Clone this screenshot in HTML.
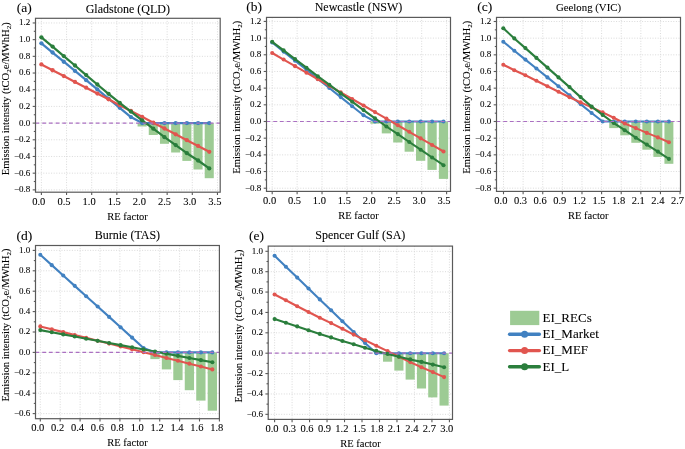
<!DOCTYPE html>
<html><head><meta charset="utf-8"><style>
html,body{margin:0;padding:0;background:#fff;width:685px;height:449px;overflow:hidden;position:relative}
svg text{font-family:"Liberation Serif", serif;fill:#000;stroke:#000;stroke-width:0.08px}
#txt{will-change:transform}
</style></head><body>
<svg width="685" height="449" viewBox="0 0 685 449" style="display:block">
<rect width="685" height="449" fill="#fff"/>
<line x1="41.4" y1="18.3" x2="41.4" y2="192.2" stroke="#d6d6d6" stroke-width="0.9" stroke-dasharray="1 1.6"/>
<line x1="66.55" y1="18.3" x2="66.55" y2="192.2" stroke="#d6d6d6" stroke-width="0.9" stroke-dasharray="1 1.6"/>
<line x1="91.7" y1="18.3" x2="91.7" y2="192.2" stroke="#d6d6d6" stroke-width="0.9" stroke-dasharray="1 1.6"/>
<line x1="116.85" y1="18.3" x2="116.85" y2="192.2" stroke="#d6d6d6" stroke-width="0.9" stroke-dasharray="1 1.6"/>
<line x1="142" y1="18.3" x2="142" y2="192.2" stroke="#d6d6d6" stroke-width="0.9" stroke-dasharray="1 1.6"/>
<line x1="167.15" y1="18.3" x2="167.15" y2="192.2" stroke="#d6d6d6" stroke-width="0.9" stroke-dasharray="1 1.6"/>
<line x1="192.3" y1="18.3" x2="192.3" y2="192.2" stroke="#d6d6d6" stroke-width="0.9" stroke-dasharray="1 1.6"/>
<line x1="217.45" y1="18.3" x2="217.45" y2="192.2" stroke="#d6d6d6" stroke-width="0.9" stroke-dasharray="1 1.6"/>
<line x1="35.5" y1="189.86" x2="220.2" y2="189.86" stroke="#d6d6d6" stroke-width="0.9" stroke-dasharray="1 1.6"/>
<line x1="35.5" y1="173.17" x2="220.2" y2="173.17" stroke="#d6d6d6" stroke-width="0.9" stroke-dasharray="1 1.6"/>
<line x1="35.5" y1="156.48" x2="220.2" y2="156.48" stroke="#d6d6d6" stroke-width="0.9" stroke-dasharray="1 1.6"/>
<line x1="35.5" y1="139.79" x2="220.2" y2="139.79" stroke="#d6d6d6" stroke-width="0.9" stroke-dasharray="1 1.6"/>
<line x1="35.5" y1="123.1" x2="220.2" y2="123.1" stroke="#d6d6d6" stroke-width="0.9" stroke-dasharray="1 1.6"/>
<line x1="35.5" y1="106.41" x2="220.2" y2="106.41" stroke="#d6d6d6" stroke-width="0.9" stroke-dasharray="1 1.6"/>
<line x1="35.5" y1="89.72" x2="220.2" y2="89.72" stroke="#d6d6d6" stroke-width="0.9" stroke-dasharray="1 1.6"/>
<line x1="35.5" y1="73.03" x2="220.2" y2="73.03" stroke="#d6d6d6" stroke-width="0.9" stroke-dasharray="1 1.6"/>
<line x1="35.5" y1="56.34" x2="220.2" y2="56.34" stroke="#d6d6d6" stroke-width="0.9" stroke-dasharray="1 1.6"/>
<line x1="35.5" y1="39.65" x2="220.2" y2="39.65" stroke="#d6d6d6" stroke-width="0.9" stroke-dasharray="1 1.6"/>
<line x1="35.5" y1="22.96" x2="220.2" y2="22.96" stroke="#d6d6d6" stroke-width="0.9" stroke-dasharray="1 1.6"/>
<rect x="137.58" y="123.1" width="9.06" height="3.4" fill="#9dcb94"/>
<rect x="148.77" y="123.1" width="9.06" height="11.9" fill="#9dcb94"/>
<rect x="159.96" y="123.1" width="9.06" height="20.7" fill="#9dcb94"/>
<rect x="171.15" y="123.1" width="9.06" height="29.4" fill="#9dcb94"/>
<rect x="182.34" y="123.1" width="9.06" height="37.8" fill="#9dcb94"/>
<rect x="193.53" y="123.1" width="9.06" height="46.4" fill="#9dcb94"/>
<rect x="204.72" y="123.1" width="9.06" height="55.1" fill="#9dcb94"/>
<polyline points="41.4,43.3 52.59,52.52 63.78,61.74 74.97,70.96 86.16,80.18 97.35,89.4 108.54,98.62 119.73,107.84 130.92,117.06 142.11,123.1 153.3,123.1 164.49,123.1 175.68,123.1 186.87,123.1 198.06,123.1 209.25,123.1" fill="none" stroke="#4181c1" stroke-width="2.25" stroke-linejoin="round" stroke-linecap="round"/>
<circle cx="41.4" cy="43.3" r="2.15" fill="#4181c1"/>
<circle cx="52.59" cy="52.52" r="2.15" fill="#4181c1"/>
<circle cx="63.78" cy="61.74" r="2.15" fill="#4181c1"/>
<circle cx="74.97" cy="70.96" r="2.15" fill="#4181c1"/>
<circle cx="86.16" cy="80.18" r="2.15" fill="#4181c1"/>
<circle cx="97.35" cy="89.4" r="2.15" fill="#4181c1"/>
<circle cx="108.54" cy="98.62" r="2.15" fill="#4181c1"/>
<circle cx="119.73" cy="107.84" r="2.15" fill="#4181c1"/>
<circle cx="130.92" cy="117.06" r="2.15" fill="#4181c1"/>
<circle cx="142.11" cy="123.1" r="2.15" fill="#4181c1"/>
<circle cx="153.3" cy="123.1" r="2.15" fill="#4181c1"/>
<circle cx="164.49" cy="123.1" r="2.15" fill="#4181c1"/>
<circle cx="175.68" cy="123.1" r="2.15" fill="#4181c1"/>
<circle cx="186.87" cy="123.1" r="2.15" fill="#4181c1"/>
<circle cx="198.06" cy="123.1" r="2.15" fill="#4181c1"/>
<circle cx="209.25" cy="123.1" r="2.15" fill="#4181c1"/>
<polyline points="41.4,64.4 52.59,70.23 63.78,76.05 74.97,81.88 86.16,87.71 97.35,93.53 108.54,99.36 119.73,105.19 130.92,111.01 142.11,116.84 153.3,122.67 164.49,128.49 175.68,134.32 186.87,140.15 198.06,145.97 209.25,151.8" fill="none" stroke="#e1554f" stroke-width="2.25" stroke-linejoin="round" stroke-linecap="round"/>
<circle cx="41.4" cy="64.4" r="2.15" fill="#e1554f"/>
<circle cx="52.59" cy="70.23" r="2.15" fill="#e1554f"/>
<circle cx="63.78" cy="76.05" r="2.15" fill="#e1554f"/>
<circle cx="74.97" cy="81.88" r="2.15" fill="#e1554f"/>
<circle cx="86.16" cy="87.71" r="2.15" fill="#e1554f"/>
<circle cx="97.35" cy="93.53" r="2.15" fill="#e1554f"/>
<circle cx="108.54" cy="99.36" r="2.15" fill="#e1554f"/>
<circle cx="119.73" cy="105.19" r="2.15" fill="#e1554f"/>
<circle cx="130.92" cy="111.01" r="2.15" fill="#e1554f"/>
<circle cx="142.11" cy="116.84" r="2.15" fill="#e1554f"/>
<circle cx="153.3" cy="122.67" r="2.15" fill="#e1554f"/>
<circle cx="164.49" cy="128.49" r="2.15" fill="#e1554f"/>
<circle cx="175.68" cy="134.32" r="2.15" fill="#e1554f"/>
<circle cx="186.87" cy="140.15" r="2.15" fill="#e1554f"/>
<circle cx="198.06" cy="145.97" r="2.15" fill="#e1554f"/>
<circle cx="209.25" cy="151.8" r="2.15" fill="#e1554f"/>
<polyline points="41.4,37.3 52.59,46.6 63.78,56.1 74.97,65.5 86.16,75.05 97.35,84.5 108.54,93.8 119.73,102.8 130.92,111.6 142.11,120.3 153.3,128.7 164.49,137.2 175.68,145.1 186.87,153.2 198.06,160.5 209.25,168.4" fill="none" stroke="#2a7e3c" stroke-width="2.25" stroke-linejoin="round" stroke-linecap="round"/>
<circle cx="41.4" cy="37.3" r="2.15" fill="#2a7e3c"/>
<circle cx="52.59" cy="46.6" r="2.15" fill="#2a7e3c"/>
<circle cx="63.78" cy="56.1" r="2.15" fill="#2a7e3c"/>
<circle cx="74.97" cy="65.5" r="2.15" fill="#2a7e3c"/>
<circle cx="86.16" cy="75.05" r="2.15" fill="#2a7e3c"/>
<circle cx="97.35" cy="84.5" r="2.15" fill="#2a7e3c"/>
<circle cx="108.54" cy="93.8" r="2.15" fill="#2a7e3c"/>
<circle cx="119.73" cy="102.8" r="2.15" fill="#2a7e3c"/>
<circle cx="130.92" cy="111.6" r="2.15" fill="#2a7e3c"/>
<circle cx="142.11" cy="120.3" r="2.15" fill="#2a7e3c"/>
<circle cx="153.3" cy="128.7" r="2.15" fill="#2a7e3c"/>
<circle cx="164.49" cy="137.2" r="2.15" fill="#2a7e3c"/>
<circle cx="175.68" cy="145.1" r="2.15" fill="#2a7e3c"/>
<circle cx="186.87" cy="153.2" r="2.15" fill="#2a7e3c"/>
<circle cx="198.06" cy="160.5" r="2.15" fill="#2a7e3c"/>
<circle cx="209.25" cy="168.4" r="2.15" fill="#2a7e3c"/>
<line x1="35.5" y1="123.1" x2="220.2" y2="123.1" stroke="#ab70c2" stroke-width="1.2" stroke-dasharray="3.8 2.9"/>
<rect x="35.5" y="18.3" width="184.7" height="173.9" fill="none" stroke="#5a5a5a" stroke-width="1.2"/>
<line x1="32.7" y1="189.86" x2="35.5" y2="189.86" stroke="#5a5a5a" stroke-width="1.1"/>
<line x1="32.7" y1="173.17" x2="35.5" y2="173.17" stroke="#5a5a5a" stroke-width="1.1"/>
<line x1="32.7" y1="156.48" x2="35.5" y2="156.48" stroke="#5a5a5a" stroke-width="1.1"/>
<line x1="32.7" y1="139.79" x2="35.5" y2="139.79" stroke="#5a5a5a" stroke-width="1.1"/>
<line x1="32.7" y1="123.1" x2="35.5" y2="123.1" stroke="#5a5a5a" stroke-width="1.1"/>
<line x1="32.7" y1="106.41" x2="35.5" y2="106.41" stroke="#5a5a5a" stroke-width="1.1"/>
<line x1="32.7" y1="89.72" x2="35.5" y2="89.72" stroke="#5a5a5a" stroke-width="1.1"/>
<line x1="32.7" y1="73.03" x2="35.5" y2="73.03" stroke="#5a5a5a" stroke-width="1.1"/>
<line x1="32.7" y1="56.34" x2="35.5" y2="56.34" stroke="#5a5a5a" stroke-width="1.1"/>
<line x1="32.7" y1="39.65" x2="35.5" y2="39.65" stroke="#5a5a5a" stroke-width="1.1"/>
<line x1="32.7" y1="22.96" x2="35.5" y2="22.96" stroke="#5a5a5a" stroke-width="1.1"/>
<line x1="33.8" y1="181.51" x2="35.5" y2="181.51" stroke="#5a5a5a" stroke-width="1.1"/>
<line x1="33.8" y1="164.82" x2="35.5" y2="164.82" stroke="#5a5a5a" stroke-width="1.1"/>
<line x1="33.8" y1="148.13" x2="35.5" y2="148.13" stroke="#5a5a5a" stroke-width="1.1"/>
<line x1="33.8" y1="131.44" x2="35.5" y2="131.44" stroke="#5a5a5a" stroke-width="1.1"/>
<line x1="33.8" y1="114.75" x2="35.5" y2="114.75" stroke="#5a5a5a" stroke-width="1.1"/>
<line x1="33.8" y1="98.06" x2="35.5" y2="98.06" stroke="#5a5a5a" stroke-width="1.1"/>
<line x1="33.8" y1="81.37" x2="35.5" y2="81.37" stroke="#5a5a5a" stroke-width="1.1"/>
<line x1="33.8" y1="64.68" x2="35.5" y2="64.68" stroke="#5a5a5a" stroke-width="1.1"/>
<line x1="33.8" y1="47.99" x2="35.5" y2="47.99" stroke="#5a5a5a" stroke-width="1.1"/>
<line x1="33.8" y1="31.3" x2="35.5" y2="31.3" stroke="#5a5a5a" stroke-width="1.1"/>
<line x1="41.4" y1="192.2" x2="41.4" y2="195" stroke="#5a5a5a" stroke-width="1.1"/>
<line x1="66.55" y1="192.2" x2="66.55" y2="195" stroke="#5a5a5a" stroke-width="1.1"/>
<line x1="91.7" y1="192.2" x2="91.7" y2="195" stroke="#5a5a5a" stroke-width="1.1"/>
<line x1="116.85" y1="192.2" x2="116.85" y2="195" stroke="#5a5a5a" stroke-width="1.1"/>
<line x1="142" y1="192.2" x2="142" y2="195" stroke="#5a5a5a" stroke-width="1.1"/>
<line x1="167.15" y1="192.2" x2="167.15" y2="195" stroke="#5a5a5a" stroke-width="1.1"/>
<line x1="192.3" y1="192.2" x2="192.3" y2="195" stroke="#5a5a5a" stroke-width="1.1"/>
<line x1="217.45" y1="192.2" x2="217.45" y2="195" stroke="#5a5a5a" stroke-width="1.1"/>
<line x1="272.2" y1="17.4" x2="272.2" y2="191.4" stroke="#d6d6d6" stroke-width="0.9" stroke-dasharray="1 1.6"/>
<line x1="297.12" y1="17.4" x2="297.12" y2="191.4" stroke="#d6d6d6" stroke-width="0.9" stroke-dasharray="1 1.6"/>
<line x1="322.03" y1="17.4" x2="322.03" y2="191.4" stroke="#d6d6d6" stroke-width="0.9" stroke-dasharray="1 1.6"/>
<line x1="346.94" y1="17.4" x2="346.94" y2="191.4" stroke="#d6d6d6" stroke-width="0.9" stroke-dasharray="1 1.6"/>
<line x1="371.86" y1="17.4" x2="371.86" y2="191.4" stroke="#d6d6d6" stroke-width="0.9" stroke-dasharray="1 1.6"/>
<line x1="396.77" y1="17.4" x2="396.77" y2="191.4" stroke="#d6d6d6" stroke-width="0.9" stroke-dasharray="1 1.6"/>
<line x1="421.69" y1="17.4" x2="421.69" y2="191.4" stroke="#d6d6d6" stroke-width="0.9" stroke-dasharray="1 1.6"/>
<line x1="446.61" y1="17.4" x2="446.61" y2="191.4" stroke="#d6d6d6" stroke-width="0.9" stroke-dasharray="1 1.6"/>
<line x1="266.5" y1="188.22" x2="450.5" y2="188.22" stroke="#d6d6d6" stroke-width="0.9" stroke-dasharray="1 1.6"/>
<line x1="266.5" y1="171.54" x2="450.5" y2="171.54" stroke="#d6d6d6" stroke-width="0.9" stroke-dasharray="1 1.6"/>
<line x1="266.5" y1="154.86" x2="450.5" y2="154.86" stroke="#d6d6d6" stroke-width="0.9" stroke-dasharray="1 1.6"/>
<line x1="266.5" y1="138.18" x2="450.5" y2="138.18" stroke="#d6d6d6" stroke-width="0.9" stroke-dasharray="1 1.6"/>
<line x1="266.5" y1="121.5" x2="450.5" y2="121.5" stroke="#d6d6d6" stroke-width="0.9" stroke-dasharray="1 1.6"/>
<line x1="266.5" y1="104.82" x2="450.5" y2="104.82" stroke="#d6d6d6" stroke-width="0.9" stroke-dasharray="1 1.6"/>
<line x1="266.5" y1="88.14" x2="450.5" y2="88.14" stroke="#d6d6d6" stroke-width="0.9" stroke-dasharray="1 1.6"/>
<line x1="266.5" y1="71.46" x2="450.5" y2="71.46" stroke="#d6d6d6" stroke-width="0.9" stroke-dasharray="1 1.6"/>
<line x1="266.5" y1="54.78" x2="450.5" y2="54.78" stroke="#d6d6d6" stroke-width="0.9" stroke-dasharray="1 1.6"/>
<line x1="266.5" y1="38.1" x2="450.5" y2="38.1" stroke="#d6d6d6" stroke-width="0.9" stroke-dasharray="1 1.6"/>
<line x1="266.5" y1="21.42" x2="450.5" y2="21.42" stroke="#d6d6d6" stroke-width="0.9" stroke-dasharray="1 1.6"/>
<rect x="370.35" y="121.5" width="9.25" height="2.2" fill="#9dcb94"/>
<rect x="381.77" y="121.5" width="9.25" height="11.9" fill="#9dcb94"/>
<rect x="393.19" y="121.5" width="9.25" height="21" fill="#9dcb94"/>
<rect x="404.61" y="121.5" width="9.25" height="30.2" fill="#9dcb94"/>
<rect x="416.03" y="121.5" width="9.25" height="39.3" fill="#9dcb94"/>
<rect x="427.45" y="121.5" width="9.25" height="48.4" fill="#9dcb94"/>
<rect x="438.87" y="121.5" width="9.25" height="57.4" fill="#9dcb94"/>
<polyline points="272.2,42.5 283.62,51.6 295.04,60.7 306.46,69.8 317.88,78.9 329.3,88 340.72,97.1 352.14,106.2 363.56,115.3 374.98,121.5 386.4,121.5 397.82,121.5 409.24,121.5 420.66,121.5 432.08,121.5 443.5,121.5" fill="none" stroke="#4181c1" stroke-width="2.1" stroke-linejoin="round" stroke-linecap="round"/>
<circle cx="272.2" cy="42.5" r="2.05" fill="#4181c1"/>
<circle cx="283.62" cy="51.6" r="2.05" fill="#4181c1"/>
<circle cx="295.04" cy="60.7" r="2.05" fill="#4181c1"/>
<circle cx="306.46" cy="69.8" r="2.05" fill="#4181c1"/>
<circle cx="317.88" cy="78.9" r="2.05" fill="#4181c1"/>
<circle cx="329.3" cy="88" r="2.05" fill="#4181c1"/>
<circle cx="340.72" cy="97.1" r="2.05" fill="#4181c1"/>
<circle cx="352.14" cy="106.2" r="2.05" fill="#4181c1"/>
<circle cx="363.56" cy="115.3" r="2.05" fill="#4181c1"/>
<circle cx="374.98" cy="121.5" r="2.05" fill="#4181c1"/>
<circle cx="386.4" cy="121.5" r="2.05" fill="#4181c1"/>
<circle cx="397.82" cy="121.5" r="2.05" fill="#4181c1"/>
<circle cx="409.24" cy="121.5" r="2.05" fill="#4181c1"/>
<circle cx="420.66" cy="121.5" r="2.05" fill="#4181c1"/>
<circle cx="432.08" cy="121.5" r="2.05" fill="#4181c1"/>
<circle cx="443.5" cy="121.5" r="2.05" fill="#4181c1"/>
<polyline points="272.2,53 283.62,59.57 295.04,66.13 306.46,72.7 317.88,79.27 329.3,85.83 340.72,92.4 352.14,98.97 363.56,105.53 374.98,112.1 386.4,118.67 397.82,125.23 409.24,131.8 420.66,138.37 432.08,144.93 443.5,151.5" fill="none" stroke="#e1554f" stroke-width="2.1" stroke-linejoin="round" stroke-linecap="round"/>
<circle cx="272.2" cy="53" r="2.05" fill="#e1554f"/>
<circle cx="283.62" cy="59.57" r="2.05" fill="#e1554f"/>
<circle cx="295.04" cy="66.13" r="2.05" fill="#e1554f"/>
<circle cx="306.46" cy="72.7" r="2.05" fill="#e1554f"/>
<circle cx="317.88" cy="79.27" r="2.05" fill="#e1554f"/>
<circle cx="329.3" cy="85.83" r="2.05" fill="#e1554f"/>
<circle cx="340.72" cy="92.4" r="2.05" fill="#e1554f"/>
<circle cx="352.14" cy="98.97" r="2.05" fill="#e1554f"/>
<circle cx="363.56" cy="105.53" r="2.05" fill="#e1554f"/>
<circle cx="374.98" cy="112.1" r="2.05" fill="#e1554f"/>
<circle cx="386.4" cy="118.67" r="2.05" fill="#e1554f"/>
<circle cx="397.82" cy="125.23" r="2.05" fill="#e1554f"/>
<circle cx="409.24" cy="131.8" r="2.05" fill="#e1554f"/>
<circle cx="420.66" cy="138.37" r="2.05" fill="#e1554f"/>
<circle cx="432.08" cy="144.93" r="2.05" fill="#e1554f"/>
<circle cx="443.5" cy="151.5" r="2.05" fill="#e1554f"/>
<polyline points="272.2,41.8 283.62,50.4 295.04,59.1 306.46,67.7 317.88,76.4 329.3,84.7 340.72,93.4 352.14,101.7 363.56,110.1 374.98,118.3 386.4,126.5 397.82,134.1 409.24,142 420.66,149.7 432.08,157.5 443.5,165.2" fill="none" stroke="#2a7e3c" stroke-width="2.1" stroke-linejoin="round" stroke-linecap="round"/>
<circle cx="272.2" cy="41.8" r="2.05" fill="#2a7e3c"/>
<circle cx="283.62" cy="50.4" r="2.05" fill="#2a7e3c"/>
<circle cx="295.04" cy="59.1" r="2.05" fill="#2a7e3c"/>
<circle cx="306.46" cy="67.7" r="2.05" fill="#2a7e3c"/>
<circle cx="317.88" cy="76.4" r="2.05" fill="#2a7e3c"/>
<circle cx="329.3" cy="84.7" r="2.05" fill="#2a7e3c"/>
<circle cx="340.72" cy="93.4" r="2.05" fill="#2a7e3c"/>
<circle cx="352.14" cy="101.7" r="2.05" fill="#2a7e3c"/>
<circle cx="363.56" cy="110.1" r="2.05" fill="#2a7e3c"/>
<circle cx="374.98" cy="118.3" r="2.05" fill="#2a7e3c"/>
<circle cx="386.4" cy="126.5" r="2.05" fill="#2a7e3c"/>
<circle cx="397.82" cy="134.1" r="2.05" fill="#2a7e3c"/>
<circle cx="409.24" cy="142" r="2.05" fill="#2a7e3c"/>
<circle cx="420.66" cy="149.7" r="2.05" fill="#2a7e3c"/>
<circle cx="432.08" cy="157.5" r="2.05" fill="#2a7e3c"/>
<circle cx="443.5" cy="165.2" r="2.05" fill="#2a7e3c"/>
<line x1="266.5" y1="121.5" x2="450.5" y2="121.5" stroke="#ab70c2" stroke-width="1.2" stroke-dasharray="3.8 2.9"/>
<rect x="266.5" y="17.4" width="184" height="174" fill="none" stroke="#5a5a5a" stroke-width="1.2"/>
<line x1="263.7" y1="188.22" x2="266.5" y2="188.22" stroke="#5a5a5a" stroke-width="1.1"/>
<line x1="263.7" y1="171.54" x2="266.5" y2="171.54" stroke="#5a5a5a" stroke-width="1.1"/>
<line x1="263.7" y1="154.86" x2="266.5" y2="154.86" stroke="#5a5a5a" stroke-width="1.1"/>
<line x1="263.7" y1="138.18" x2="266.5" y2="138.18" stroke="#5a5a5a" stroke-width="1.1"/>
<line x1="263.7" y1="121.5" x2="266.5" y2="121.5" stroke="#5a5a5a" stroke-width="1.1"/>
<line x1="263.7" y1="104.82" x2="266.5" y2="104.82" stroke="#5a5a5a" stroke-width="1.1"/>
<line x1="263.7" y1="88.14" x2="266.5" y2="88.14" stroke="#5a5a5a" stroke-width="1.1"/>
<line x1="263.7" y1="71.46" x2="266.5" y2="71.46" stroke="#5a5a5a" stroke-width="1.1"/>
<line x1="263.7" y1="54.78" x2="266.5" y2="54.78" stroke="#5a5a5a" stroke-width="1.1"/>
<line x1="263.7" y1="38.1" x2="266.5" y2="38.1" stroke="#5a5a5a" stroke-width="1.1"/>
<line x1="263.7" y1="21.42" x2="266.5" y2="21.42" stroke="#5a5a5a" stroke-width="1.1"/>
<line x1="264.8" y1="179.88" x2="266.5" y2="179.88" stroke="#5a5a5a" stroke-width="1.1"/>
<line x1="264.8" y1="163.2" x2="266.5" y2="163.2" stroke="#5a5a5a" stroke-width="1.1"/>
<line x1="264.8" y1="146.52" x2="266.5" y2="146.52" stroke="#5a5a5a" stroke-width="1.1"/>
<line x1="264.8" y1="129.84" x2="266.5" y2="129.84" stroke="#5a5a5a" stroke-width="1.1"/>
<line x1="264.8" y1="113.16" x2="266.5" y2="113.16" stroke="#5a5a5a" stroke-width="1.1"/>
<line x1="264.8" y1="96.48" x2="266.5" y2="96.48" stroke="#5a5a5a" stroke-width="1.1"/>
<line x1="264.8" y1="79.8" x2="266.5" y2="79.8" stroke="#5a5a5a" stroke-width="1.1"/>
<line x1="264.8" y1="63.12" x2="266.5" y2="63.12" stroke="#5a5a5a" stroke-width="1.1"/>
<line x1="264.8" y1="46.44" x2="266.5" y2="46.44" stroke="#5a5a5a" stroke-width="1.1"/>
<line x1="264.8" y1="29.76" x2="266.5" y2="29.76" stroke="#5a5a5a" stroke-width="1.1"/>
<line x1="272.2" y1="191.4" x2="272.2" y2="194.2" stroke="#5a5a5a" stroke-width="1.1"/>
<line x1="297.12" y1="191.4" x2="297.12" y2="194.2" stroke="#5a5a5a" stroke-width="1.1"/>
<line x1="322.03" y1="191.4" x2="322.03" y2="194.2" stroke="#5a5a5a" stroke-width="1.1"/>
<line x1="346.94" y1="191.4" x2="346.94" y2="194.2" stroke="#5a5a5a" stroke-width="1.1"/>
<line x1="371.86" y1="191.4" x2="371.86" y2="194.2" stroke="#5a5a5a" stroke-width="1.1"/>
<line x1="396.77" y1="191.4" x2="396.77" y2="194.2" stroke="#5a5a5a" stroke-width="1.1"/>
<line x1="421.69" y1="191.4" x2="421.69" y2="194.2" stroke="#5a5a5a" stroke-width="1.1"/>
<line x1="446.61" y1="191.4" x2="446.61" y2="194.2" stroke="#5a5a5a" stroke-width="1.1"/>
<line x1="503.5" y1="17.4" x2="503.5" y2="191.4" stroke="#d6d6d6" stroke-width="0.9" stroke-dasharray="1 1.6"/>
<line x1="523.12" y1="17.4" x2="523.12" y2="191.4" stroke="#d6d6d6" stroke-width="0.9" stroke-dasharray="1 1.6"/>
<line x1="542.74" y1="17.4" x2="542.74" y2="191.4" stroke="#d6d6d6" stroke-width="0.9" stroke-dasharray="1 1.6"/>
<line x1="562.36" y1="17.4" x2="562.36" y2="191.4" stroke="#d6d6d6" stroke-width="0.9" stroke-dasharray="1 1.6"/>
<line x1="581.98" y1="17.4" x2="581.98" y2="191.4" stroke="#d6d6d6" stroke-width="0.9" stroke-dasharray="1 1.6"/>
<line x1="601.6" y1="17.4" x2="601.6" y2="191.4" stroke="#d6d6d6" stroke-width="0.9" stroke-dasharray="1 1.6"/>
<line x1="621.22" y1="17.4" x2="621.22" y2="191.4" stroke="#d6d6d6" stroke-width="0.9" stroke-dasharray="1 1.6"/>
<line x1="640.84" y1="17.4" x2="640.84" y2="191.4" stroke="#d6d6d6" stroke-width="0.9" stroke-dasharray="1 1.6"/>
<line x1="660.46" y1="17.4" x2="660.46" y2="191.4" stroke="#d6d6d6" stroke-width="0.9" stroke-dasharray="1 1.6"/>
<line x1="496.5" y1="188.16" x2="680.5" y2="188.16" stroke="#d6d6d6" stroke-width="0.9" stroke-dasharray="1 1.6"/>
<line x1="496.5" y1="171.5" x2="680.5" y2="171.5" stroke="#d6d6d6" stroke-width="0.9" stroke-dasharray="1 1.6"/>
<line x1="496.5" y1="154.83" x2="680.5" y2="154.83" stroke="#d6d6d6" stroke-width="0.9" stroke-dasharray="1 1.6"/>
<line x1="496.5" y1="138.17" x2="680.5" y2="138.17" stroke="#d6d6d6" stroke-width="0.9" stroke-dasharray="1 1.6"/>
<line x1="496.5" y1="121.5" x2="680.5" y2="121.5" stroke="#d6d6d6" stroke-width="0.9" stroke-dasharray="1 1.6"/>
<line x1="496.5" y1="104.83" x2="680.5" y2="104.83" stroke="#d6d6d6" stroke-width="0.9" stroke-dasharray="1 1.6"/>
<line x1="496.5" y1="88.17" x2="680.5" y2="88.17" stroke="#d6d6d6" stroke-width="0.9" stroke-dasharray="1 1.6"/>
<line x1="496.5" y1="71.5" x2="680.5" y2="71.5" stroke="#d6d6d6" stroke-width="0.9" stroke-dasharray="1 1.6"/>
<line x1="496.5" y1="54.84" x2="680.5" y2="54.84" stroke="#d6d6d6" stroke-width="0.9" stroke-dasharray="1 1.6"/>
<line x1="496.5" y1="38.17" x2="680.5" y2="38.17" stroke="#d6d6d6" stroke-width="0.9" stroke-dasharray="1 1.6"/>
<line x1="496.5" y1="21.5" x2="680.5" y2="21.5" stroke="#d6d6d6" stroke-width="0.9" stroke-dasharray="1 1.6"/>
<rect x="609.23" y="121.5" width="8.94" height="6.6" fill="#9dcb94"/>
<rect x="620.27" y="121.5" width="8.94" height="13.8" fill="#9dcb94"/>
<rect x="631.31" y="121.5" width="8.94" height="21.3" fill="#9dcb94"/>
<rect x="642.35" y="121.5" width="8.94" height="28.2" fill="#9dcb94"/>
<rect x="653.39" y="121.5" width="8.94" height="35.4" fill="#9dcb94"/>
<rect x="664.43" y="121.5" width="8.94" height="42.3" fill="#9dcb94"/>
<polyline points="503.3,41.8 514.34,50.7 525.38,59.6 536.42,68.5 547.46,77.4 558.5,86.3 569.54,95.2 580.58,104.1 591.62,113 602.66,121.5 613.7,121.5 624.74,121.5 635.78,121.5 646.82,121.5 657.86,121.5 668.9,121.5" fill="none" stroke="#4181c1" stroke-width="2.1" stroke-linejoin="round" stroke-linecap="round"/>
<circle cx="503.3" cy="41.8" r="2.05" fill="#4181c1"/>
<circle cx="514.34" cy="50.7" r="2.05" fill="#4181c1"/>
<circle cx="525.38" cy="59.6" r="2.05" fill="#4181c1"/>
<circle cx="536.42" cy="68.5" r="2.05" fill="#4181c1"/>
<circle cx="547.46" cy="77.4" r="2.05" fill="#4181c1"/>
<circle cx="558.5" cy="86.3" r="2.05" fill="#4181c1"/>
<circle cx="569.54" cy="95.2" r="2.05" fill="#4181c1"/>
<circle cx="580.58" cy="104.1" r="2.05" fill="#4181c1"/>
<circle cx="591.62" cy="113" r="2.05" fill="#4181c1"/>
<circle cx="602.66" cy="121.5" r="2.05" fill="#4181c1"/>
<circle cx="613.7" cy="121.5" r="2.05" fill="#4181c1"/>
<circle cx="624.74" cy="121.5" r="2.05" fill="#4181c1"/>
<circle cx="635.78" cy="121.5" r="2.05" fill="#4181c1"/>
<circle cx="646.82" cy="121.5" r="2.05" fill="#4181c1"/>
<circle cx="657.86" cy="121.5" r="2.05" fill="#4181c1"/>
<circle cx="668.9" cy="121.5" r="2.05" fill="#4181c1"/>
<polyline points="503.3,64.7 514.34,70.2 525.38,75.3 536.42,80.8 547.46,86.3 558.5,91.7 569.54,97.3 580.58,102.4 591.62,107.4 602.66,112.4 613.7,117.8 624.74,123.5 635.78,128.1 646.82,132.9 657.86,137.4 668.9,142.2" fill="none" stroke="#e1554f" stroke-width="2.1" stroke-linejoin="round" stroke-linecap="round"/>
<circle cx="503.3" cy="64.7" r="2.05" fill="#e1554f"/>
<circle cx="514.34" cy="70.2" r="2.05" fill="#e1554f"/>
<circle cx="525.38" cy="75.3" r="2.05" fill="#e1554f"/>
<circle cx="536.42" cy="80.8" r="2.05" fill="#e1554f"/>
<circle cx="547.46" cy="86.3" r="2.05" fill="#e1554f"/>
<circle cx="558.5" cy="91.7" r="2.05" fill="#e1554f"/>
<circle cx="569.54" cy="97.3" r="2.05" fill="#e1554f"/>
<circle cx="580.58" cy="102.4" r="2.05" fill="#e1554f"/>
<circle cx="591.62" cy="107.4" r="2.05" fill="#e1554f"/>
<circle cx="602.66" cy="112.4" r="2.05" fill="#e1554f"/>
<circle cx="613.7" cy="117.8" r="2.05" fill="#e1554f"/>
<circle cx="624.74" cy="123.5" r="2.05" fill="#e1554f"/>
<circle cx="635.78" cy="128.1" r="2.05" fill="#e1554f"/>
<circle cx="646.82" cy="132.9" r="2.05" fill="#e1554f"/>
<circle cx="657.86" cy="137.4" r="2.05" fill="#e1554f"/>
<circle cx="668.9" cy="142.2" r="2.05" fill="#e1554f"/>
<polyline points="503.3,28.3 514.34,38.4 525.38,48.1 536.42,57.9 547.46,67.6 558.5,77.4 569.54,87.1 580.58,97.1 591.62,106.6 602.66,114.9 613.7,123 624.74,130.2 635.78,137.7 646.82,144.6 657.86,151.6 668.9,158.9" fill="none" stroke="#2a7e3c" stroke-width="2.1" stroke-linejoin="round" stroke-linecap="round"/>
<circle cx="503.3" cy="28.3" r="2.05" fill="#2a7e3c"/>
<circle cx="514.34" cy="38.4" r="2.05" fill="#2a7e3c"/>
<circle cx="525.38" cy="48.1" r="2.05" fill="#2a7e3c"/>
<circle cx="536.42" cy="57.9" r="2.05" fill="#2a7e3c"/>
<circle cx="547.46" cy="67.6" r="2.05" fill="#2a7e3c"/>
<circle cx="558.5" cy="77.4" r="2.05" fill="#2a7e3c"/>
<circle cx="569.54" cy="87.1" r="2.05" fill="#2a7e3c"/>
<circle cx="580.58" cy="97.1" r="2.05" fill="#2a7e3c"/>
<circle cx="591.62" cy="106.6" r="2.05" fill="#2a7e3c"/>
<circle cx="602.66" cy="114.9" r="2.05" fill="#2a7e3c"/>
<circle cx="613.7" cy="123" r="2.05" fill="#2a7e3c"/>
<circle cx="624.74" cy="130.2" r="2.05" fill="#2a7e3c"/>
<circle cx="635.78" cy="137.7" r="2.05" fill="#2a7e3c"/>
<circle cx="646.82" cy="144.6" r="2.05" fill="#2a7e3c"/>
<circle cx="657.86" cy="151.6" r="2.05" fill="#2a7e3c"/>
<circle cx="668.9" cy="158.9" r="2.05" fill="#2a7e3c"/>
<line x1="496.5" y1="121.5" x2="680.5" y2="121.5" stroke="#ab70c2" stroke-width="1.2" stroke-dasharray="3.8 2.9"/>
<rect x="496.5" y="17.4" width="184" height="174" fill="none" stroke="#5a5a5a" stroke-width="1.2"/>
<line x1="493.7" y1="188.16" x2="496.5" y2="188.16" stroke="#5a5a5a" stroke-width="1.1"/>
<line x1="493.7" y1="171.5" x2="496.5" y2="171.5" stroke="#5a5a5a" stroke-width="1.1"/>
<line x1="493.7" y1="154.83" x2="496.5" y2="154.83" stroke="#5a5a5a" stroke-width="1.1"/>
<line x1="493.7" y1="138.17" x2="496.5" y2="138.17" stroke="#5a5a5a" stroke-width="1.1"/>
<line x1="493.7" y1="121.5" x2="496.5" y2="121.5" stroke="#5a5a5a" stroke-width="1.1"/>
<line x1="493.7" y1="104.83" x2="496.5" y2="104.83" stroke="#5a5a5a" stroke-width="1.1"/>
<line x1="493.7" y1="88.17" x2="496.5" y2="88.17" stroke="#5a5a5a" stroke-width="1.1"/>
<line x1="493.7" y1="71.5" x2="496.5" y2="71.5" stroke="#5a5a5a" stroke-width="1.1"/>
<line x1="493.7" y1="54.84" x2="496.5" y2="54.84" stroke="#5a5a5a" stroke-width="1.1"/>
<line x1="493.7" y1="38.17" x2="496.5" y2="38.17" stroke="#5a5a5a" stroke-width="1.1"/>
<line x1="493.7" y1="21.5" x2="496.5" y2="21.5" stroke="#5a5a5a" stroke-width="1.1"/>
<line x1="494.8" y1="179.83" x2="496.5" y2="179.83" stroke="#5a5a5a" stroke-width="1.1"/>
<line x1="494.8" y1="163.17" x2="496.5" y2="163.17" stroke="#5a5a5a" stroke-width="1.1"/>
<line x1="494.8" y1="146.5" x2="496.5" y2="146.5" stroke="#5a5a5a" stroke-width="1.1"/>
<line x1="494.8" y1="129.83" x2="496.5" y2="129.83" stroke="#5a5a5a" stroke-width="1.1"/>
<line x1="494.8" y1="113.17" x2="496.5" y2="113.17" stroke="#5a5a5a" stroke-width="1.1"/>
<line x1="494.8" y1="96.5" x2="496.5" y2="96.5" stroke="#5a5a5a" stroke-width="1.1"/>
<line x1="494.8" y1="79.83" x2="496.5" y2="79.83" stroke="#5a5a5a" stroke-width="1.1"/>
<line x1="494.8" y1="63.17" x2="496.5" y2="63.17" stroke="#5a5a5a" stroke-width="1.1"/>
<line x1="494.8" y1="46.5" x2="496.5" y2="46.5" stroke="#5a5a5a" stroke-width="1.1"/>
<line x1="494.8" y1="29.84" x2="496.5" y2="29.84" stroke="#5a5a5a" stroke-width="1.1"/>
<line x1="503.5" y1="191.4" x2="503.5" y2="194.2" stroke="#5a5a5a" stroke-width="1.1"/>
<line x1="523.12" y1="191.4" x2="523.12" y2="194.2" stroke="#5a5a5a" stroke-width="1.1"/>
<line x1="542.74" y1="191.4" x2="542.74" y2="194.2" stroke="#5a5a5a" stroke-width="1.1"/>
<line x1="562.36" y1="191.4" x2="562.36" y2="194.2" stroke="#5a5a5a" stroke-width="1.1"/>
<line x1="581.98" y1="191.4" x2="581.98" y2="194.2" stroke="#5a5a5a" stroke-width="1.1"/>
<line x1="601.6" y1="191.4" x2="601.6" y2="194.2" stroke="#5a5a5a" stroke-width="1.1"/>
<line x1="621.22" y1="191.4" x2="621.22" y2="194.2" stroke="#5a5a5a" stroke-width="1.1"/>
<line x1="640.84" y1="191.4" x2="640.84" y2="194.2" stroke="#5a5a5a" stroke-width="1.1"/>
<line x1="660.46" y1="191.4" x2="660.46" y2="194.2" stroke="#5a5a5a" stroke-width="1.1"/>
<line x1="680.08" y1="191.4" x2="680.08" y2="194.2" stroke="#5a5a5a" stroke-width="1.1"/>
<line x1="40.3" y1="245.5" x2="40.3" y2="418.7" stroke="#d6d6d6" stroke-width="0.9" stroke-dasharray="1 1.6"/>
<line x1="60.2" y1="245.5" x2="60.2" y2="418.7" stroke="#d6d6d6" stroke-width="0.9" stroke-dasharray="1 1.6"/>
<line x1="80.1" y1="245.5" x2="80.1" y2="418.7" stroke="#d6d6d6" stroke-width="0.9" stroke-dasharray="1 1.6"/>
<line x1="100" y1="245.5" x2="100" y2="418.7" stroke="#d6d6d6" stroke-width="0.9" stroke-dasharray="1 1.6"/>
<line x1="119.9" y1="245.5" x2="119.9" y2="418.7" stroke="#d6d6d6" stroke-width="0.9" stroke-dasharray="1 1.6"/>
<line x1="139.8" y1="245.5" x2="139.8" y2="418.7" stroke="#d6d6d6" stroke-width="0.9" stroke-dasharray="1 1.6"/>
<line x1="159.7" y1="245.5" x2="159.7" y2="418.7" stroke="#d6d6d6" stroke-width="0.9" stroke-dasharray="1 1.6"/>
<line x1="179.6" y1="245.5" x2="179.6" y2="418.7" stroke="#d6d6d6" stroke-width="0.9" stroke-dasharray="1 1.6"/>
<line x1="199.5" y1="245.5" x2="199.5" y2="418.7" stroke="#d6d6d6" stroke-width="0.9" stroke-dasharray="1 1.6"/>
<line x1="35.5" y1="413.6" x2="219.4" y2="413.6" stroke="#d6d6d6" stroke-width="0.9" stroke-dasharray="1 1.6"/>
<line x1="35.5" y1="393.2" x2="219.4" y2="393.2" stroke="#d6d6d6" stroke-width="0.9" stroke-dasharray="1 1.6"/>
<line x1="35.5" y1="372.8" x2="219.4" y2="372.8" stroke="#d6d6d6" stroke-width="0.9" stroke-dasharray="1 1.6"/>
<line x1="35.5" y1="352.4" x2="219.4" y2="352.4" stroke="#d6d6d6" stroke-width="0.9" stroke-dasharray="1 1.6"/>
<line x1="35.5" y1="332" x2="219.4" y2="332" stroke="#d6d6d6" stroke-width="0.9" stroke-dasharray="1 1.6"/>
<line x1="35.5" y1="311.6" x2="219.4" y2="311.6" stroke="#d6d6d6" stroke-width="0.9" stroke-dasharray="1 1.6"/>
<line x1="35.5" y1="291.2" x2="219.4" y2="291.2" stroke="#d6d6d6" stroke-width="0.9" stroke-dasharray="1 1.6"/>
<line x1="35.5" y1="270.8" x2="219.4" y2="270.8" stroke="#d6d6d6" stroke-width="0.9" stroke-dasharray="1 1.6"/>
<line x1="35.5" y1="250.4" x2="219.4" y2="250.4" stroke="#d6d6d6" stroke-width="0.9" stroke-dasharray="1 1.6"/>
<rect x="150.35" y="352.4" width="9.29" height="6.7" fill="#9dcb94"/>
<rect x="161.82" y="352.4" width="9.29" height="17" fill="#9dcb94"/>
<rect x="173.29" y="352.4" width="9.29" height="27.7" fill="#9dcb94"/>
<rect x="184.76" y="352.4" width="9.29" height="37.8" fill="#9dcb94"/>
<rect x="196.23" y="352.4" width="9.29" height="48.2" fill="#9dcb94"/>
<rect x="207.7" y="352.4" width="9.29" height="58.3" fill="#9dcb94"/>
<polyline points="40.3,254.8 51.77,265.15 63.24,275.5 74.71,285.85 86.18,296.2 97.65,306.55 109.12,316.9 120.59,327.25 132.06,337.6 143.53,347.95 155,352.4 166.47,352.4 177.94,352.4 189.41,352.4 200.88,352.4 212.35,352.4" fill="none" stroke="#4181c1" stroke-width="2.1" stroke-linejoin="round" stroke-linecap="round"/>
<circle cx="40.3" cy="254.8" r="2.05" fill="#4181c1"/>
<circle cx="51.77" cy="265.15" r="2.05" fill="#4181c1"/>
<circle cx="63.24" cy="275.5" r="2.05" fill="#4181c1"/>
<circle cx="74.71" cy="285.85" r="2.05" fill="#4181c1"/>
<circle cx="86.18" cy="296.2" r="2.05" fill="#4181c1"/>
<circle cx="97.65" cy="306.55" r="2.05" fill="#4181c1"/>
<circle cx="109.12" cy="316.9" r="2.05" fill="#4181c1"/>
<circle cx="120.59" cy="327.25" r="2.05" fill="#4181c1"/>
<circle cx="132.06" cy="337.6" r="2.05" fill="#4181c1"/>
<circle cx="143.53" cy="347.95" r="2.05" fill="#4181c1"/>
<circle cx="155" cy="352.4" r="2.05" fill="#4181c1"/>
<circle cx="166.47" cy="352.4" r="2.05" fill="#4181c1"/>
<circle cx="177.94" cy="352.4" r="2.05" fill="#4181c1"/>
<circle cx="189.41" cy="352.4" r="2.05" fill="#4181c1"/>
<circle cx="200.88" cy="352.4" r="2.05" fill="#4181c1"/>
<circle cx="212.35" cy="352.4" r="2.05" fill="#4181c1"/>
<polyline points="40.3,326.4 51.77,329.27 63.24,332.13 74.71,335 86.18,337.87 97.65,340.73 109.12,343.6 120.59,346.47 132.06,349.33 143.53,352.2 155,355.07 166.47,357.93 177.94,360.8 189.41,363.67 200.88,366.53 212.35,369.4" fill="none" stroke="#e1554f" stroke-width="2.1" stroke-linejoin="round" stroke-linecap="round"/>
<circle cx="40.3" cy="326.4" r="2.05" fill="#e1554f"/>
<circle cx="51.77" cy="329.27" r="2.05" fill="#e1554f"/>
<circle cx="63.24" cy="332.13" r="2.05" fill="#e1554f"/>
<circle cx="74.71" cy="335" r="2.05" fill="#e1554f"/>
<circle cx="86.18" cy="337.87" r="2.05" fill="#e1554f"/>
<circle cx="97.65" cy="340.73" r="2.05" fill="#e1554f"/>
<circle cx="109.12" cy="343.6" r="2.05" fill="#e1554f"/>
<circle cx="120.59" cy="346.47" r="2.05" fill="#e1554f"/>
<circle cx="132.06" cy="349.33" r="2.05" fill="#e1554f"/>
<circle cx="143.53" cy="352.2" r="2.05" fill="#e1554f"/>
<circle cx="155" cy="355.07" r="2.05" fill="#e1554f"/>
<circle cx="166.47" cy="357.93" r="2.05" fill="#e1554f"/>
<circle cx="177.94" cy="360.8" r="2.05" fill="#e1554f"/>
<circle cx="189.41" cy="363.67" r="2.05" fill="#e1554f"/>
<circle cx="200.88" cy="366.53" r="2.05" fill="#e1554f"/>
<circle cx="212.35" cy="369.4" r="2.05" fill="#e1554f"/>
<polyline points="40.3,330.1 51.77,332.25 63.24,334.39 74.71,336.54 86.18,338.69 97.65,340.83 109.12,342.98 120.59,345.13 132.06,347.27 143.53,349.42 155,351.57 166.47,353.71 177.94,355.86 189.41,358.01 200.88,360.15 212.35,362.3" fill="none" stroke="#2a7e3c" stroke-width="2.1" stroke-linejoin="round" stroke-linecap="round"/>
<circle cx="40.3" cy="330.1" r="2.05" fill="#2a7e3c"/>
<circle cx="51.77" cy="332.25" r="2.05" fill="#2a7e3c"/>
<circle cx="63.24" cy="334.39" r="2.05" fill="#2a7e3c"/>
<circle cx="74.71" cy="336.54" r="2.05" fill="#2a7e3c"/>
<circle cx="86.18" cy="338.69" r="2.05" fill="#2a7e3c"/>
<circle cx="97.65" cy="340.83" r="2.05" fill="#2a7e3c"/>
<circle cx="109.12" cy="342.98" r="2.05" fill="#2a7e3c"/>
<circle cx="120.59" cy="345.13" r="2.05" fill="#2a7e3c"/>
<circle cx="132.06" cy="347.27" r="2.05" fill="#2a7e3c"/>
<circle cx="143.53" cy="349.42" r="2.05" fill="#2a7e3c"/>
<circle cx="155" cy="351.57" r="2.05" fill="#2a7e3c"/>
<circle cx="166.47" cy="353.71" r="2.05" fill="#2a7e3c"/>
<circle cx="177.94" cy="355.86" r="2.05" fill="#2a7e3c"/>
<circle cx="189.41" cy="358.01" r="2.05" fill="#2a7e3c"/>
<circle cx="200.88" cy="360.15" r="2.05" fill="#2a7e3c"/>
<circle cx="212.35" cy="362.3" r="2.05" fill="#2a7e3c"/>
<line x1="35.5" y1="352.4" x2="219.4" y2="352.4" stroke="#ab70c2" stroke-width="1.2" stroke-dasharray="3.8 2.9"/>
<rect x="35.5" y="245.5" width="183.9" height="173.2" fill="none" stroke="#5a5a5a" stroke-width="1.2"/>
<line x1="32.7" y1="413.6" x2="35.5" y2="413.6" stroke="#5a5a5a" stroke-width="1.1"/>
<line x1="32.7" y1="393.2" x2="35.5" y2="393.2" stroke="#5a5a5a" stroke-width="1.1"/>
<line x1="32.7" y1="372.8" x2="35.5" y2="372.8" stroke="#5a5a5a" stroke-width="1.1"/>
<line x1="32.7" y1="352.4" x2="35.5" y2="352.4" stroke="#5a5a5a" stroke-width="1.1"/>
<line x1="32.7" y1="332" x2="35.5" y2="332" stroke="#5a5a5a" stroke-width="1.1"/>
<line x1="32.7" y1="311.6" x2="35.5" y2="311.6" stroke="#5a5a5a" stroke-width="1.1"/>
<line x1="32.7" y1="291.2" x2="35.5" y2="291.2" stroke="#5a5a5a" stroke-width="1.1"/>
<line x1="32.7" y1="270.8" x2="35.5" y2="270.8" stroke="#5a5a5a" stroke-width="1.1"/>
<line x1="32.7" y1="250.4" x2="35.5" y2="250.4" stroke="#5a5a5a" stroke-width="1.1"/>
<line x1="33.8" y1="403.4" x2="35.5" y2="403.4" stroke="#5a5a5a" stroke-width="1.1"/>
<line x1="33.8" y1="383" x2="35.5" y2="383" stroke="#5a5a5a" stroke-width="1.1"/>
<line x1="33.8" y1="362.6" x2="35.5" y2="362.6" stroke="#5a5a5a" stroke-width="1.1"/>
<line x1="33.8" y1="342.2" x2="35.5" y2="342.2" stroke="#5a5a5a" stroke-width="1.1"/>
<line x1="33.8" y1="321.8" x2="35.5" y2="321.8" stroke="#5a5a5a" stroke-width="1.1"/>
<line x1="33.8" y1="301.4" x2="35.5" y2="301.4" stroke="#5a5a5a" stroke-width="1.1"/>
<line x1="33.8" y1="281" x2="35.5" y2="281" stroke="#5a5a5a" stroke-width="1.1"/>
<line x1="33.8" y1="260.6" x2="35.5" y2="260.6" stroke="#5a5a5a" stroke-width="1.1"/>
<line x1="40.3" y1="418.7" x2="40.3" y2="421.5" stroke="#5a5a5a" stroke-width="1.1"/>
<line x1="60.2" y1="418.7" x2="60.2" y2="421.5" stroke="#5a5a5a" stroke-width="1.1"/>
<line x1="80.1" y1="418.7" x2="80.1" y2="421.5" stroke="#5a5a5a" stroke-width="1.1"/>
<line x1="100" y1="418.7" x2="100" y2="421.5" stroke="#5a5a5a" stroke-width="1.1"/>
<line x1="119.9" y1="418.7" x2="119.9" y2="421.5" stroke="#5a5a5a" stroke-width="1.1"/>
<line x1="139.8" y1="418.7" x2="139.8" y2="421.5" stroke="#5a5a5a" stroke-width="1.1"/>
<line x1="159.7" y1="418.7" x2="159.7" y2="421.5" stroke="#5a5a5a" stroke-width="1.1"/>
<line x1="179.6" y1="418.7" x2="179.6" y2="421.5" stroke="#5a5a5a" stroke-width="1.1"/>
<line x1="199.5" y1="418.7" x2="199.5" y2="421.5" stroke="#5a5a5a" stroke-width="1.1"/>
<line x1="219.4" y1="418.7" x2="219.4" y2="421.5" stroke="#5a5a5a" stroke-width="1.1"/>
<line x1="274.6" y1="246.1" x2="274.6" y2="419.4" stroke="#d6d6d6" stroke-width="0.9" stroke-dasharray="1 1.6"/>
<line x1="292.08" y1="246.1" x2="292.08" y2="419.4" stroke="#d6d6d6" stroke-width="0.9" stroke-dasharray="1 1.6"/>
<line x1="309.56" y1="246.1" x2="309.56" y2="419.4" stroke="#d6d6d6" stroke-width="0.9" stroke-dasharray="1 1.6"/>
<line x1="327.04" y1="246.1" x2="327.04" y2="419.4" stroke="#d6d6d6" stroke-width="0.9" stroke-dasharray="1 1.6"/>
<line x1="344.52" y1="246.1" x2="344.52" y2="419.4" stroke="#d6d6d6" stroke-width="0.9" stroke-dasharray="1 1.6"/>
<line x1="362" y1="246.1" x2="362" y2="419.4" stroke="#d6d6d6" stroke-width="0.9" stroke-dasharray="1 1.6"/>
<line x1="379.49" y1="246.1" x2="379.49" y2="419.4" stroke="#d6d6d6" stroke-width="0.9" stroke-dasharray="1 1.6"/>
<line x1="396.97" y1="246.1" x2="396.97" y2="419.4" stroke="#d6d6d6" stroke-width="0.9" stroke-dasharray="1 1.6"/>
<line x1="414.45" y1="246.1" x2="414.45" y2="419.4" stroke="#d6d6d6" stroke-width="0.9" stroke-dasharray="1 1.6"/>
<line x1="431.93" y1="246.1" x2="431.93" y2="419.4" stroke="#d6d6d6" stroke-width="0.9" stroke-dasharray="1 1.6"/>
<line x1="449.41" y1="246.1" x2="449.41" y2="419.4" stroke="#d6d6d6" stroke-width="0.9" stroke-dasharray="1 1.6"/>
<line x1="268.2" y1="414.34" x2="452.5" y2="414.34" stroke="#d6d6d6" stroke-width="0.9" stroke-dasharray="1 1.6"/>
<line x1="268.2" y1="393.96" x2="452.5" y2="393.96" stroke="#d6d6d6" stroke-width="0.9" stroke-dasharray="1 1.6"/>
<line x1="268.2" y1="373.58" x2="452.5" y2="373.58" stroke="#d6d6d6" stroke-width="0.9" stroke-dasharray="1 1.6"/>
<line x1="268.2" y1="353.2" x2="452.5" y2="353.2" stroke="#d6d6d6" stroke-width="0.9" stroke-dasharray="1 1.6"/>
<line x1="268.2" y1="332.82" x2="452.5" y2="332.82" stroke="#d6d6d6" stroke-width="0.9" stroke-dasharray="1 1.6"/>
<line x1="268.2" y1="312.44" x2="452.5" y2="312.44" stroke="#d6d6d6" stroke-width="0.9" stroke-dasharray="1 1.6"/>
<line x1="268.2" y1="292.06" x2="452.5" y2="292.06" stroke="#d6d6d6" stroke-width="0.9" stroke-dasharray="1 1.6"/>
<line x1="268.2" y1="271.68" x2="452.5" y2="271.68" stroke="#d6d6d6" stroke-width="0.9" stroke-dasharray="1 1.6"/>
<line x1="268.2" y1="251.3" x2="452.5" y2="251.3" stroke="#d6d6d6" stroke-width="0.9" stroke-dasharray="1 1.6"/>
<rect x="383.02" y="353.2" width="9.15" height="8.5" fill="#9dcb94"/>
<rect x="394.32" y="353.2" width="9.15" height="17.4" fill="#9dcb94"/>
<rect x="405.62" y="353.2" width="9.15" height="26.4" fill="#9dcb94"/>
<rect x="416.92" y="353.2" width="9.15" height="35.3" fill="#9dcb94"/>
<rect x="428.22" y="353.2" width="9.15" height="44.2" fill="#9dcb94"/>
<rect x="439.52" y="353.2" width="9.15" height="52.4" fill="#9dcb94"/>
<polyline points="274.6,255.8 285.9,266.7 297.2,277.6 308.5,288.5 319.8,299.4 331.1,310.3 342.4,321.2 353.7,332.1 365,343 376.3,353.2 387.6,353.2 398.9,353.2 410.2,353.2 421.5,353.2 432.8,353.2 444.1,353.2" fill="none" stroke="#4181c1" stroke-width="2.1" stroke-linejoin="round" stroke-linecap="round"/>
<circle cx="274.6" cy="255.8" r="2.05" fill="#4181c1"/>
<circle cx="285.9" cy="266.7" r="2.05" fill="#4181c1"/>
<circle cx="297.2" cy="277.6" r="2.05" fill="#4181c1"/>
<circle cx="308.5" cy="288.5" r="2.05" fill="#4181c1"/>
<circle cx="319.8" cy="299.4" r="2.05" fill="#4181c1"/>
<circle cx="331.1" cy="310.3" r="2.05" fill="#4181c1"/>
<circle cx="342.4" cy="321.2" r="2.05" fill="#4181c1"/>
<circle cx="353.7" cy="332.1" r="2.05" fill="#4181c1"/>
<circle cx="365" cy="343" r="2.05" fill="#4181c1"/>
<circle cx="376.3" cy="353.2" r="2.05" fill="#4181c1"/>
<circle cx="387.6" cy="353.2" r="2.05" fill="#4181c1"/>
<circle cx="398.9" cy="353.2" r="2.05" fill="#4181c1"/>
<circle cx="410.2" cy="353.2" r="2.05" fill="#4181c1"/>
<circle cx="421.5" cy="353.2" r="2.05" fill="#4181c1"/>
<circle cx="432.8" cy="353.2" r="2.05" fill="#4181c1"/>
<circle cx="444.1" cy="353.2" r="2.05" fill="#4181c1"/>
<polyline points="274.6,294.5 285.9,300.3 297.2,306.2 308.5,312 319.8,317.8 331.1,323.1 342.4,328.7 353.7,334.6 365,340.1 376.3,345.8 387.6,351.1 398.9,356.7 410.2,362.1 421.5,367.3 432.8,372.1 444.1,377.1" fill="none" stroke="#e1554f" stroke-width="2.1" stroke-linejoin="round" stroke-linecap="round"/>
<circle cx="274.6" cy="294.5" r="2.05" fill="#e1554f"/>
<circle cx="285.9" cy="300.3" r="2.05" fill="#e1554f"/>
<circle cx="297.2" cy="306.2" r="2.05" fill="#e1554f"/>
<circle cx="308.5" cy="312" r="2.05" fill="#e1554f"/>
<circle cx="319.8" cy="317.8" r="2.05" fill="#e1554f"/>
<circle cx="331.1" cy="323.1" r="2.05" fill="#e1554f"/>
<circle cx="342.4" cy="328.7" r="2.05" fill="#e1554f"/>
<circle cx="353.7" cy="334.6" r="2.05" fill="#e1554f"/>
<circle cx="365" cy="340.1" r="2.05" fill="#e1554f"/>
<circle cx="376.3" cy="345.8" r="2.05" fill="#e1554f"/>
<circle cx="387.6" cy="351.1" r="2.05" fill="#e1554f"/>
<circle cx="398.9" cy="356.7" r="2.05" fill="#e1554f"/>
<circle cx="410.2" cy="362.1" r="2.05" fill="#e1554f"/>
<circle cx="421.5" cy="367.3" r="2.05" fill="#e1554f"/>
<circle cx="432.8" cy="372.1" r="2.05" fill="#e1554f"/>
<circle cx="444.1" cy="377.1" r="2.05" fill="#e1554f"/>
<polyline points="274.6,319.1 285.9,322.8 297.2,326.4 308.5,330.3 319.8,333.9 331.1,337.4 342.4,341 353.7,344.2 365,347.8 376.3,350.9 387.6,353.9 398.9,356.7 410.2,359.4 421.5,361.9 432.8,364.6 444.1,367.3" fill="none" stroke="#2a7e3c" stroke-width="2.1" stroke-linejoin="round" stroke-linecap="round"/>
<circle cx="274.6" cy="319.1" r="2.05" fill="#2a7e3c"/>
<circle cx="285.9" cy="322.8" r="2.05" fill="#2a7e3c"/>
<circle cx="297.2" cy="326.4" r="2.05" fill="#2a7e3c"/>
<circle cx="308.5" cy="330.3" r="2.05" fill="#2a7e3c"/>
<circle cx="319.8" cy="333.9" r="2.05" fill="#2a7e3c"/>
<circle cx="331.1" cy="337.4" r="2.05" fill="#2a7e3c"/>
<circle cx="342.4" cy="341" r="2.05" fill="#2a7e3c"/>
<circle cx="353.7" cy="344.2" r="2.05" fill="#2a7e3c"/>
<circle cx="365" cy="347.8" r="2.05" fill="#2a7e3c"/>
<circle cx="376.3" cy="350.9" r="2.05" fill="#2a7e3c"/>
<circle cx="387.6" cy="353.9" r="2.05" fill="#2a7e3c"/>
<circle cx="398.9" cy="356.7" r="2.05" fill="#2a7e3c"/>
<circle cx="410.2" cy="359.4" r="2.05" fill="#2a7e3c"/>
<circle cx="421.5" cy="361.9" r="2.05" fill="#2a7e3c"/>
<circle cx="432.8" cy="364.6" r="2.05" fill="#2a7e3c"/>
<circle cx="444.1" cy="367.3" r="2.05" fill="#2a7e3c"/>
<line x1="268.2" y1="353.2" x2="452.5" y2="353.2" stroke="#ab70c2" stroke-width="1.2" stroke-dasharray="3.8 2.9"/>
<rect x="268.2" y="246.1" width="184.3" height="173.3" fill="none" stroke="#5a5a5a" stroke-width="1.2"/>
<line x1="265.4" y1="414.34" x2="268.2" y2="414.34" stroke="#5a5a5a" stroke-width="1.1"/>
<line x1="265.4" y1="393.96" x2="268.2" y2="393.96" stroke="#5a5a5a" stroke-width="1.1"/>
<line x1="265.4" y1="373.58" x2="268.2" y2="373.58" stroke="#5a5a5a" stroke-width="1.1"/>
<line x1="265.4" y1="353.2" x2="268.2" y2="353.2" stroke="#5a5a5a" stroke-width="1.1"/>
<line x1="265.4" y1="332.82" x2="268.2" y2="332.82" stroke="#5a5a5a" stroke-width="1.1"/>
<line x1="265.4" y1="312.44" x2="268.2" y2="312.44" stroke="#5a5a5a" stroke-width="1.1"/>
<line x1="265.4" y1="292.06" x2="268.2" y2="292.06" stroke="#5a5a5a" stroke-width="1.1"/>
<line x1="265.4" y1="271.68" x2="268.2" y2="271.68" stroke="#5a5a5a" stroke-width="1.1"/>
<line x1="265.4" y1="251.3" x2="268.2" y2="251.3" stroke="#5a5a5a" stroke-width="1.1"/>
<line x1="266.5" y1="404.15" x2="268.2" y2="404.15" stroke="#5a5a5a" stroke-width="1.1"/>
<line x1="266.5" y1="383.77" x2="268.2" y2="383.77" stroke="#5a5a5a" stroke-width="1.1"/>
<line x1="266.5" y1="363.39" x2="268.2" y2="363.39" stroke="#5a5a5a" stroke-width="1.1"/>
<line x1="266.5" y1="343.01" x2="268.2" y2="343.01" stroke="#5a5a5a" stroke-width="1.1"/>
<line x1="266.5" y1="322.63" x2="268.2" y2="322.63" stroke="#5a5a5a" stroke-width="1.1"/>
<line x1="266.5" y1="302.25" x2="268.2" y2="302.25" stroke="#5a5a5a" stroke-width="1.1"/>
<line x1="266.5" y1="281.87" x2="268.2" y2="281.87" stroke="#5a5a5a" stroke-width="1.1"/>
<line x1="266.5" y1="261.49" x2="268.2" y2="261.49" stroke="#5a5a5a" stroke-width="1.1"/>
<line x1="274.6" y1="419.4" x2="274.6" y2="422.2" stroke="#5a5a5a" stroke-width="1.1"/>
<line x1="292.08" y1="419.4" x2="292.08" y2="422.2" stroke="#5a5a5a" stroke-width="1.1"/>
<line x1="309.56" y1="419.4" x2="309.56" y2="422.2" stroke="#5a5a5a" stroke-width="1.1"/>
<line x1="327.04" y1="419.4" x2="327.04" y2="422.2" stroke="#5a5a5a" stroke-width="1.1"/>
<line x1="344.52" y1="419.4" x2="344.52" y2="422.2" stroke="#5a5a5a" stroke-width="1.1"/>
<line x1="362" y1="419.4" x2="362" y2="422.2" stroke="#5a5a5a" stroke-width="1.1"/>
<line x1="379.49" y1="419.4" x2="379.49" y2="422.2" stroke="#5a5a5a" stroke-width="1.1"/>
<line x1="396.97" y1="419.4" x2="396.97" y2="422.2" stroke="#5a5a5a" stroke-width="1.1"/>
<line x1="414.45" y1="419.4" x2="414.45" y2="422.2" stroke="#5a5a5a" stroke-width="1.1"/>
<line x1="431.93" y1="419.4" x2="431.93" y2="422.2" stroke="#5a5a5a" stroke-width="1.1"/>
<line x1="449.41" y1="419.4" x2="449.41" y2="422.2" stroke="#5a5a5a" stroke-width="1.1"/>
<rect x="510.1" y="310.8" width="29.2" height="14.3" fill="#9dcb94"/>
<line x1="509.6" y1="334.2" x2="539.4" y2="334.2" stroke="#4181c1" stroke-width="3.4" stroke-linecap="round"/>
<circle cx="524.6" cy="334.2" r="3.5" fill="#4181c1"/>
<line x1="509.6" y1="350.6" x2="539.4" y2="350.6" stroke="#e1554f" stroke-width="3.4" stroke-linecap="round"/>
<circle cx="524.6" cy="350.6" r="3.5" fill="#e1554f"/>
<line x1="509.6" y1="366.8" x2="539.4" y2="366.8" stroke="#2a7e3c" stroke-width="3.4" stroke-linecap="round"/>
<circle cx="524.6" cy="366.8" r="3.5" fill="#2a7e3c"/>
</svg>
<svg id="txt" width="685" height="449" viewBox="0 0 685 449" style="position:absolute;left:0;top:0">
<text x="30.3" y="192.26" font-size="9" text-anchor="end">−0.8</text>
<text x="30.3" y="175.57" font-size="9" text-anchor="end">−0.6</text>
<text x="30.3" y="158.88" font-size="9" text-anchor="end">−0.4</text>
<text x="30.3" y="142.19" font-size="9" text-anchor="end">−0.2</text>
<text x="30.3" y="125.5" font-size="9" text-anchor="end">0.0</text>
<text x="30.3" y="108.81" font-size="9" text-anchor="end">0.2</text>
<text x="30.3" y="92.12" font-size="9" text-anchor="end">0.4</text>
<text x="30.3" y="75.43" font-size="9" text-anchor="end">0.6</text>
<text x="30.3" y="58.74" font-size="9" text-anchor="end">0.8</text>
<text x="30.3" y="42.05" font-size="9" text-anchor="end">1.0</text>
<text x="30.3" y="25.36" font-size="9" text-anchor="end">1.2</text>
<text x="38.8" y="204.5" font-size="10.5" text-anchor="middle">0.0</text>
<text x="63.95" y="204.5" font-size="10.5" text-anchor="middle">0.5</text>
<text x="89.1" y="204.5" font-size="10.5" text-anchor="middle">1.0</text>
<text x="114.25" y="204.5" font-size="10.5" text-anchor="middle">1.5</text>
<text x="139.4" y="204.5" font-size="10.5" text-anchor="middle">2.0</text>
<text x="164.55" y="204.5" font-size="10.5" text-anchor="middle">2.5</text>
<text x="189.7" y="204.5" font-size="10.5" text-anchor="middle">3.0</text>
<text x="214.85" y="204.5" font-size="10.5" text-anchor="middle">3.5</text>
<text x="127.85" y="12.5" font-size="12" text-anchor="middle">Gladstone (QLD)</text>
<text x="16.7" y="12.4" font-size="13.5">(a)</text>
<text x="127.6" y="219.7" font-size="10.5" text-anchor="middle">RE factor</text>
<text transform="translate(8.9,98.75) rotate(-90)" font-size="10.6" text-anchor="middle">Emission intensity (tCO<tspan font-size="7" dy="2">2</tspan><tspan dy="-2">e/MWhH</tspan><tspan font-size="7" dy="2">2</tspan><tspan dy="-2">)</tspan></text>
<text x="261.3" y="190.62" font-size="9" text-anchor="end">−0.8</text>
<text x="261.3" y="173.94" font-size="9" text-anchor="end">−0.6</text>
<text x="261.3" y="157.26" font-size="9" text-anchor="end">−0.4</text>
<text x="261.3" y="140.58" font-size="9" text-anchor="end">−0.2</text>
<text x="261.3" y="123.9" font-size="9" text-anchor="end">0.0</text>
<text x="261.3" y="107.22" font-size="9" text-anchor="end">0.2</text>
<text x="261.3" y="90.54" font-size="9" text-anchor="end">0.4</text>
<text x="261.3" y="73.86" font-size="9" text-anchor="end">0.6</text>
<text x="261.3" y="57.18" font-size="9" text-anchor="end">0.8</text>
<text x="261.3" y="40.5" font-size="9" text-anchor="end">1.0</text>
<text x="261.3" y="23.82" font-size="9" text-anchor="end">1.2</text>
<text x="269.6" y="203.7" font-size="10.5" text-anchor="middle">0.0</text>
<text x="294.51" y="203.7" font-size="10.5" text-anchor="middle">0.5</text>
<text x="319.43" y="203.7" font-size="10.5" text-anchor="middle">1.0</text>
<text x="344.34" y="203.7" font-size="10.5" text-anchor="middle">1.5</text>
<text x="369.26" y="203.7" font-size="10.5" text-anchor="middle">2.0</text>
<text x="394.17" y="203.7" font-size="10.5" text-anchor="middle">2.5</text>
<text x="419.09" y="203.7" font-size="10.5" text-anchor="middle">3.0</text>
<text x="444" y="203.7" font-size="10.5" text-anchor="middle">3.5</text>
<text x="358.5" y="10.8" font-size="12" text-anchor="middle">Newcastle (NSW)</text>
<text x="246.3" y="11.2" font-size="13.5">(b)</text>
<text x="358.5" y="218.6" font-size="10.5" text-anchor="middle">RE factor</text>
<text transform="translate(240,97.3) rotate(-90)" font-size="10.6" text-anchor="middle">Emission intensity (tCO<tspan font-size="7" dy="2">2</tspan><tspan dy="-2">e/MWhH</tspan><tspan font-size="7" dy="2">2</tspan><tspan dy="-2">)</tspan></text>
<text x="491.3" y="190.56" font-size="9" text-anchor="end">−0.8</text>
<text x="491.3" y="173.9" font-size="9" text-anchor="end">−0.6</text>
<text x="491.3" y="157.23" font-size="9" text-anchor="end">−0.4</text>
<text x="491.3" y="140.57" font-size="9" text-anchor="end">−0.2</text>
<text x="491.3" y="123.9" font-size="9" text-anchor="end">0.0</text>
<text x="491.3" y="107.23" font-size="9" text-anchor="end">0.2</text>
<text x="491.3" y="90.57" font-size="9" text-anchor="end">0.4</text>
<text x="491.3" y="73.9" font-size="9" text-anchor="end">0.6</text>
<text x="491.3" y="57.24" font-size="9" text-anchor="end">0.8</text>
<text x="491.3" y="40.57" font-size="9" text-anchor="end">1.0</text>
<text x="491.3" y="23.9" font-size="9" text-anchor="end">1.2</text>
<text x="500.9" y="203.7" font-size="10.5" text-anchor="middle">0.0</text>
<text x="520.52" y="203.7" font-size="10.5" text-anchor="middle">0.3</text>
<text x="540.14" y="203.7" font-size="10.5" text-anchor="middle">0.6</text>
<text x="559.76" y="203.7" font-size="10.5" text-anchor="middle">0.9</text>
<text x="579.38" y="203.7" font-size="10.5" text-anchor="middle">1.2</text>
<text x="599" y="203.7" font-size="10.5" text-anchor="middle">1.5</text>
<text x="618.62" y="203.7" font-size="10.5" text-anchor="middle">1.8</text>
<text x="638.24" y="203.7" font-size="10.5" text-anchor="middle">2.1</text>
<text x="657.86" y="203.7" font-size="10.5" text-anchor="middle">2.4</text>
<text x="677.48" y="203.7" font-size="10.5" text-anchor="middle">2.7</text>
<text x="588.5" y="11.4" font-size="10.8" text-anchor="middle">Geelong (VIC)</text>
<text x="477.3" y="11.3" font-size="13.5">(c)</text>
<text x="588.3" y="218.6" font-size="10.5" text-anchor="middle">RE factor</text>
<text transform="translate(469.9,97.3) rotate(-90)" font-size="10.6" text-anchor="middle">Emission intensity (tCO<tspan font-size="7" dy="2">2</tspan><tspan dy="-2">e/MWhH</tspan><tspan font-size="7" dy="2">2</tspan><tspan dy="-2">)</tspan></text>
<text x="30.3" y="416" font-size="9" text-anchor="end">−0.6</text>
<text x="30.3" y="395.6" font-size="9" text-anchor="end">−0.4</text>
<text x="30.3" y="375.2" font-size="9" text-anchor="end">−0.2</text>
<text x="30.3" y="354.8" font-size="9" text-anchor="end">0.0</text>
<text x="30.3" y="334.4" font-size="9" text-anchor="end">0.2</text>
<text x="30.3" y="314" font-size="9" text-anchor="end">0.4</text>
<text x="30.3" y="293.6" font-size="9" text-anchor="end">0.6</text>
<text x="30.3" y="273.2" font-size="9" text-anchor="end">0.8</text>
<text x="30.3" y="252.8" font-size="9" text-anchor="end">1.0</text>
<text x="37.7" y="431" font-size="10.5" text-anchor="middle">0.0</text>
<text x="57.6" y="431" font-size="10.5" text-anchor="middle">0.2</text>
<text x="77.5" y="431" font-size="10.5" text-anchor="middle">0.4</text>
<text x="97.4" y="431" font-size="10.5" text-anchor="middle">0.6</text>
<text x="117.3" y="431" font-size="10.5" text-anchor="middle">0.8</text>
<text x="137.2" y="431" font-size="10.5" text-anchor="middle">1.0</text>
<text x="157.1" y="431" font-size="10.5" text-anchor="middle">1.2</text>
<text x="177" y="431" font-size="10.5" text-anchor="middle">1.4</text>
<text x="196.9" y="431" font-size="10.5" text-anchor="middle">1.6</text>
<text x="216.8" y="431" font-size="10.5" text-anchor="middle">1.8</text>
<text x="127.45" y="238.9" font-size="12" text-anchor="middle">Burnie (TAS)</text>
<text x="16.6" y="239.5" font-size="13.5">(d)</text>
<text x="127.6" y="446.4" font-size="10.5" text-anchor="middle">RE factor</text>
<text transform="translate(8.9,324.95) rotate(-90)" font-size="10.6" text-anchor="middle">Emission intensity (tCO<tspan font-size="7" dy="2">2</tspan><tspan dy="-2">e/MWhH</tspan><tspan font-size="7" dy="2">2</tspan><tspan dy="-2">)</tspan></text>
<text x="263" y="416.74" font-size="9" text-anchor="end">−0.6</text>
<text x="263" y="396.36" font-size="9" text-anchor="end">−0.4</text>
<text x="263" y="375.98" font-size="9" text-anchor="end">−0.2</text>
<text x="263" y="355.6" font-size="9" text-anchor="end">0.0</text>
<text x="263" y="335.22" font-size="9" text-anchor="end">0.2</text>
<text x="263" y="314.84" font-size="9" text-anchor="end">0.4</text>
<text x="263" y="294.46" font-size="9" text-anchor="end">0.6</text>
<text x="263" y="274.08" font-size="9" text-anchor="end">0.8</text>
<text x="263" y="253.7" font-size="9" text-anchor="end">1.0</text>
<text x="272" y="431.7" font-size="10.5" text-anchor="middle">0.0</text>
<text x="289.48" y="431.7" font-size="10.5" text-anchor="middle">0.3</text>
<text x="306.96" y="431.7" font-size="10.5" text-anchor="middle">0.6</text>
<text x="324.44" y="431.7" font-size="10.5" text-anchor="middle">0.9</text>
<text x="341.92" y="431.7" font-size="10.5" text-anchor="middle">1.2</text>
<text x="359.4" y="431.7" font-size="10.5" text-anchor="middle">1.5</text>
<text x="376.89" y="431.7" font-size="10.5" text-anchor="middle">1.8</text>
<text x="394.37" y="431.7" font-size="10.5" text-anchor="middle">2.1</text>
<text x="411.85" y="431.7" font-size="10.5" text-anchor="middle">2.4</text>
<text x="429.33" y="431.7" font-size="10.5" text-anchor="middle">2.7</text>
<text x="446.81" y="431.7" font-size="10.5" text-anchor="middle">3.0</text>
<text x="360.35" y="239.4" font-size="12" text-anchor="middle">Spencer Gulf (SA)</text>
<text x="249" y="240" font-size="13.5">(e)</text>
<text x="360.5" y="447.1" font-size="10.5" text-anchor="middle">RE factor</text>
<text transform="translate(241.6,325.95) rotate(-90)" font-size="10.6" text-anchor="middle">Emission intensity (tCO<tspan font-size="7" dy="2">2</tspan><tspan dy="-2">e/MWhH</tspan><tspan font-size="7" dy="2">2</tspan><tspan dy="-2">)</tspan></text>
<text x="542.6" y="322.0" font-size="13">EI_RECs</text>
<text x="542.6" y="338.2" font-size="13">EI_Market</text>
<text x="542.6" y="354.4" font-size="13">EI_MEF</text>
<text x="542.6" y="370.6" font-size="13">EI_L</text>
</svg>
</body></html>
